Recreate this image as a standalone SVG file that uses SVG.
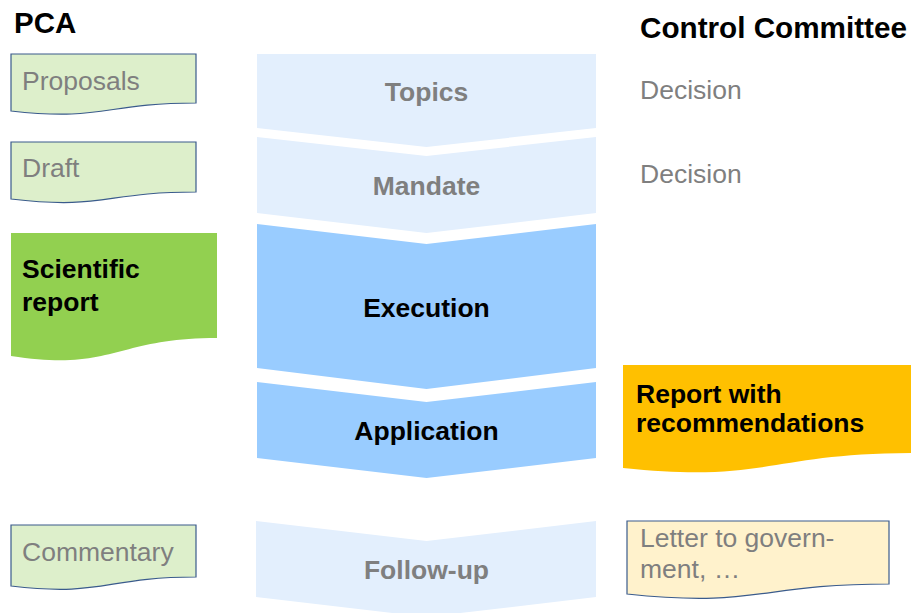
<svg xmlns="http://www.w3.org/2000/svg" width="911" height="613" viewBox="0 0 911 613">
<style>
text{font-family:"Liberation Sans",Arial,sans-serif;font-size:26.5px}
.title{font-weight:bold;font-size:29.5px;fill:#000}
.g{fill:#7F7F7F}
.gb{fill:#7F7F7F;font-weight:bold}
.b{fill:#000;font-weight:bold}
.c{text-anchor:middle}
.light{fill:#E3EFFD}
.dark{fill:#99CCFF}
.doc{fill:#DDEFCB;stroke:#3A5B8C;stroke-width:1.2}
.note{fill:#FFF2CC;stroke:#3A5B8C;stroke-width:1.2}
</style>
<rect width="911" height="613" fill="#fff"/>
<g id="headers">
<text class="title" x="14" y="33">PCA</text>
<text class="title" x="640" y="38" textLength="267" lengthAdjust="spacingAndGlyphs">Control Committee</text>
</g>
<g id="connectors"></g>
<g id="topics">
<polygon class="light" points="257,54 596,54 596,128 426.5,147 257,128"/>
<text class="gb c" x="426.5" y="101">Topics</text>
</g>
<g id="mandate">
<polygon class="light" points="257,137 426.5,156 596,137 596,213 426.5,233 257,213"/>
<text class="gb c" x="426.5" y="195">Mandate</text>
</g>
<g id="execution">
<polygon class="dark" points="257,224 426.5,244 596,224 596,368 426.5,389 257,368"/>
<text class="b c" x="426.5" y="317">Execution</text>
</g>
<g id="application">
<polygon class="dark" points="257,382 426.5,402 596,382 596,458 426.5,478 257,458"/>
<text class="b c" x="426.5" y="440">Application</text>
</g>
<g id="followup">
<polygon class="light" points="256,521 426.5,541 596,521 596,597 426.5,617 256,597"/>
<text class="gb c" x="426.5" y="579">Follow-up</text>
</g>
<g id="proposals">
<path class="doc" d="M11,54 H196 V103 C103.5,103 103.5,121.5 11,111 Z"/>
<text class="g" x="22" y="90">Proposals</text>
</g>
<g id="draft">
<path class="doc" d="M11,142 H196 V192 C103.5,192 103.5,210 11,199 Z"/>
<text class="g" x="22" y="177">Draft</text>
</g>
<g id="scientific">
<path fill="#92D050" d="M11,233 H217 V338 C114,338 114,372 11,356 Z"/>
<text class="b" x="22" y="278">Scientific</text>
<text class="b" x="22" y="311">report</text>
</g>
<g id="decision1">
<text class="g" x="640" y="99">Decision</text>
</g>
<g id="decision2">
<text class="g" x="640" y="183">Decision</text>
</g>
<g id="report">
<path fill="#FFC000" d="M623,365 H915 V453 C769,453 769,483 623,468 Z"/>
<text class="b" x="636" y="403">Report with</text>
<text class="b" x="636" y="432">recommendations</text>
</g>
<g id="commentary">
<path class="doc" d="M11,525 H196 V577 C103.5,577 103.5,597 11,586 Z"/>
<text class="g" x="22" y="561">Commentary</text>
</g>
<g id="letter">
<path class="note" d="M627,521 H889 V584 C758,584 758,608 627,594 Z"/>
<text class="g" x="640" y="547">Letter to govern-</text>
<text class="g" x="640" y="578">ment, …</text>
</g>
</svg>
